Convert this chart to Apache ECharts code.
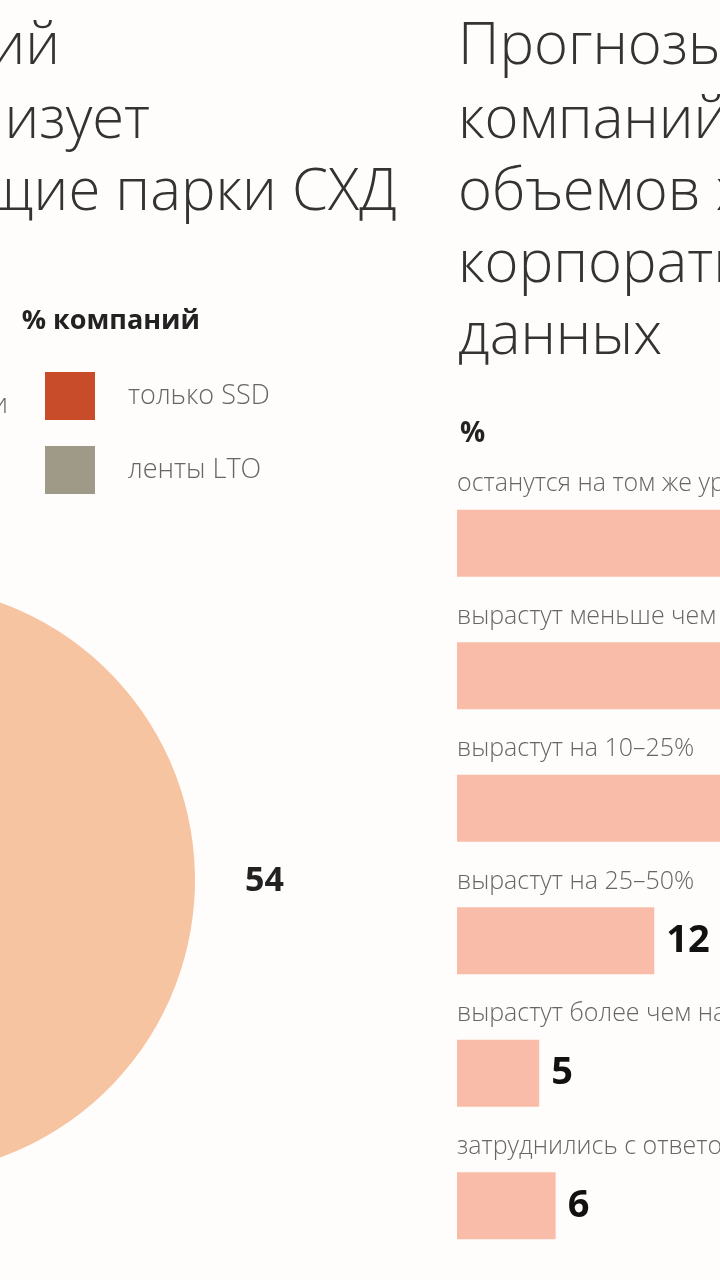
<!DOCTYPE html>
<html>
<head>
<meta charset="utf-8">
<script src="https://cdn.jsdelivr.net/npm/echarts@6/dist/echarts.min.js"></script>
<style>html,body{margin:0;padding:0;background:#fffdfb}#chart{width:720px;height:1280px}</style>
</head>
<body>
<div id="chart"></div>
<script>
// круговая: доли компаний (видна только большая доля)
var pieNames = ['гибридные СХД', 'только SSD', 'ленты LTO'];
var pieValues = [54, 30, 16];
var pieColors = ['#f7c4a2', '#c84b2a', '#9f9a88'];

// прогноз роста объемов, %
var barCats = ['останутся на том же уровне', 'вырастут меньше чем на 10%', 'вырастут на 10–25%',
  'вырастут на 25–50%', 'вырастут более чем на 50%', 'затруднились с ответом'];
var barValues = [35, 24, 18, 12, 5, 6];

var font = '"Open Sans", "Noto Sans", sans-serif';
var myChart = echarts.init(document.getElementById('chart'));

var option = {
  backgroundColor: '#fffdfb',
  animation: false,
  graphic: [
    {type: 'text', right: 660, top: 18, style: {text: 'Большинство компаний', font: '300 58px ' + font, fill: '#333', textAlign: 'right'}},
    {type: 'text', style: {x: 150, y: 92, text: 'не модернизует', font: '300 58px ' + font, fill: '#333', textAlign: 'right'}},
    {type: 'text', style: {x: 397, y: 164, text: 'существующие парки СХД', font: '300 58px ' + font, fill: '#333', textAlign: 'right'}},
    {type: 'text', style: {x: 200, y: 308, text: '% компаний', font: 'bold 27px ' + font, fill: '#222', textAlign: 'right'}},
    {type: 'text', style: {x: 8, y: 392, text: 'гибридные системы и', font: '300 27px ' + font, fill: '#666', textAlign: 'right'}},
    {type: 'text', style: {x: 458, y: 18, text: 'Прогнозы', font: '300 58px ' + font, fill: '#333'}},
    {type: 'text', style: {x: 458, y: 92, text: 'компаний по росту', font: '300 58px ' + font, fill: '#333'}},
    {type: 'text', style: {x: 458, y: 164, text: 'объемов хранения', font: '300 58px ' + font, fill: '#333'}},
    {type: 'text', style: {x: 458, y: 236, text: 'корпоративных', font: '300 58px ' + font, fill: '#333'}},
    {type: 'text', style: {x: 458, y: 308, text: 'данных', font: '300 58px ' + font, fill: '#333'}},
    {type: 'text', style: {x: 460, y: 420, text: '%', font: 'bold 28px ' + font, fill: '#222'}}
  ],
  legend: {
    data: ['только SSD', 'ленты LTO'],
    orient: 'vertical', left: 40, top: 367,
    itemWidth: 50, itemHeight: 48, itemGap: 26, icon: 'rect',
    textStyle: {fontFamily: font, fontSize: 27, fontWeight: 300, color: '#666', padding: [0, 0, 0, 28]},
    selectedMode: false
  },
  grid: {left: 457, right: 0, top: 477, bottom: 8},
  xAxis: {type: 'value', min: 0, max: 16, show: false},
  yAxis: {type: 'category', inverse: true, data: barCats, show: false},
  series: [
    {
      type: 'pie', center: [-100, 880], radius: 295, startAngle: 97,
      silent: true,
      label: {
        show: true, position: 'inside', formatter: function (p) { return p.dataIndex === 0 ? p.value : ''; },
        fontFamily: font, fontSize: 34, fontWeight: 'bold', color: '#222'
      },
      labelLine: {show: false},
      data: pieNames.map(function (n, i) { return {name: n, value: pieValues[i], itemStyle: {color: pieColors[i]}, label: i === 0 ? {position: [0, 0]} : {}}; })
    },
    {
      type: 'bar', barWidth: 67, barGap: '-100%', silent: true,
      itemStyle: {color: '#f8bca8'},
      label: {show: true, position: 'right', distance: 12, fontFamily: font, fontSize: 38, fontWeight: 'bold', color: '#111'},
      data: barValues
    },
    {
      type: 'bar', barWidth: 67, barGap: '-100%', silent: true,
      itemStyle: {color: 'rgba(0,0,0,0)'},
      label: {show: true, position: [0, -38], formatter: '{b}', fontFamily: font, fontSize: 25, fontWeight: 300, color: '#666'},
      data: barValues.map(function () { return 0.01; })
    }
  ]
};
myChart.setOption(option);
</script>
</body>
</html>
